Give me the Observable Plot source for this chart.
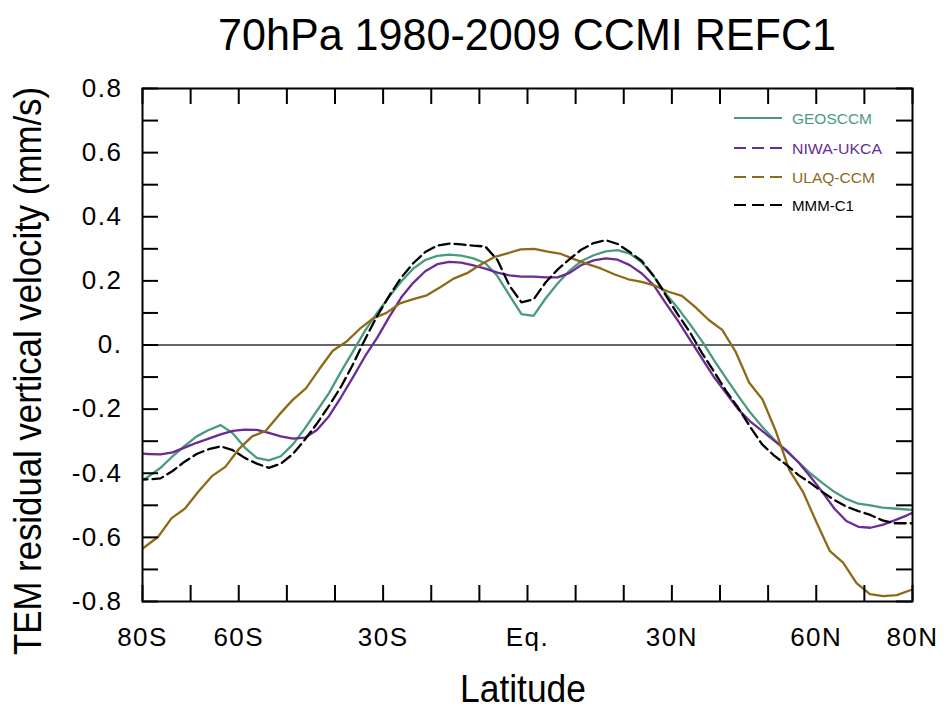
<!DOCTYPE html>
<html><head><meta charset="utf-8">
<script src="https://cdn.jsdelivr.net/npm/d3@7"></script>
<script src="https://cdn.jsdelivr.net/npm/@observablehq/plot@0.6"></script>
<style>
body{margin:0;background:#fff;}
#chart{width:946px;height:711px;}
g[aria-label="x-axis tick label"] text, g[aria-label="y-axis tick label"] text{letter-spacing:1.5px;}
</style>
</head><body><div id="chart"></div>
<script>
// common 2.5° latitude grid (GEOSCCM, NIWA-UKCA, MMM-C1)
const latGrid = [-81.25,-78.75,-76.25,-73.75,-71.25,-68.75,-66.25,-63.75,-61.25,-58.75,-56.25,-53.75,-51.25,-48.75,-46.25,-43.75,-41.25,-38.75,-36.25,-33.75,-31.25,-28.75,-26.25,-23.75,-21.25,-18.75,-16.25,-13.75,-11.25,-8.75,-6.25,-3.75,-1.25,1.25,3.75,6.25,8.75,11.25,13.75,16.25,18.75,21.25,23.75,26.25,28.75,31.25,33.75,36.25,38.75,41.25,43.75,46.25,48.75,51.25,53.75,56.25,58.75,61.25,63.75,66.25,68.75,71.25,73.75,76.25,78.75,81.25];
// T42 Gaussian latitudes (ULAQ-CCM)
const latT42 = [-82.31,-79.53,-76.74,-73.95,-71.16,-68.37,-65.58,-62.79,-60.0,-57.21,-54.42,-51.63,-48.84,-46.04,-43.25,-40.46,-37.67,-34.88,-32.09,-29.30,-26.51,-23.72,-20.93,-18.14,-15.35,-12.56,-9.77,-6.98,-4.19,-1.40,1.40,4.19,6.98,9.77,12.56,15.35,18.14,20.93,23.72,26.51,29.30,32.09,34.88,37.67,40.46,43.25,46.04,48.84,51.63,54.42,57.21,60.0,62.79,65.58,68.37,71.16,73.95,76.74,79.53,82.31];

const geosccm = [-0.435,-0.41,-0.383,-0.347,-0.315,-0.285,-0.265,-0.25,-0.275,-0.32,-0.352,-0.36,-0.347,-0.31,-0.26,-0.205,-0.15,-0.083,-0.02,0.045,0.10,0.15,0.198,0.238,0.265,0.278,0.282,0.279,0.27,0.255,0.215,0.155,0.096,0.091,0.145,0.192,0.232,0.262,0.28,0.292,0.296,0.285,0.258,0.214,0.16,0.115,0.065,0.012,-0.047,-0.103,-0.158,-0.21,-0.255,-0.295,-0.33,-0.365,-0.4,-0.43,-0.458,-0.48,-0.495,-0.5,-0.507,-0.51,-0.513,-0.516];
const niwaUkca = [-0.338,-0.34,-0.341,-0.335,-0.32,-0.305,-0.292,-0.279,-0.268,-0.264,-0.265,-0.274,-0.285,-0.292,-0.289,-0.265,-0.222,-0.163,-0.1,-0.035,0.022,0.087,0.148,0.194,0.23,0.252,0.259,0.257,0.248,0.238,0.226,0.217,0.213,0.213,0.211,0.211,0.225,0.25,0.264,0.27,0.266,0.249,0.223,0.186,0.13,0.076,0.017,-0.042,-0.1,-0.15,-0.2,-0.238,-0.268,-0.298,-0.328,-0.365,-0.41,-0.458,-0.51,-0.549,-0.567,-0.57,-0.561,-0.547,-0.532,-0.515];
const ulaqCcm = [-0.66,-0.63,-0.598,-0.54,-0.51,-0.457,-0.409,-0.38,-0.325,-0.285,-0.268,-0.218,-0.172,-0.135,-0.075,-0.018,0.01,0.05,0.083,0.10,0.13,0.143,0.155,0.18,0.207,0.224,0.25,0.274,0.286,0.298,0.30,0.291,0.284,0.267,0.252,0.238,0.22,0.205,0.197,0.185,0.166,0.153,0.118,0.078,0.047,-0.021,-0.117,-0.17,-0.27,-0.39,-0.457,-0.551,-0.642,-0.679,-0.743,-0.777,-0.783,-0.78,-0.765,-0.75];
const mmmC1 = [-0.419,-0.419,-0.416,-0.393,-0.364,-0.34,-0.325,-0.316,-0.328,-0.352,-0.37,-0.383,-0.37,-0.34,-0.295,-0.245,-0.19,-0.13,-0.06,0.018,0.09,0.153,0.21,0.255,0.29,0.31,0.316,0.314,0.31,0.307,0.265,0.185,0.133,0.142,0.195,0.235,0.268,0.298,0.318,0.327,0.315,0.29,0.262,0.215,0.155,0.095,0.04,-0.025,-0.083,-0.143,-0.195,-0.255,-0.31,-0.345,-0.373,-0.405,-0.43,-0.458,-0.483,-0.504,-0.518,-0.53,-0.547,-0.556,-0.556,-0.556];

const seriesNames = ["GEOSCCM","NIWA-UKCA","ULAQ-CCM","MMM-C1"];
const seriesColors = ["#4a9a7f","#6a2b94","#8d6a17","#000000"];

const xMinorTicks = [-80,-70,-60,-50,-40,-30,-20,-10,0,10,20,30,40,50,60,70,80];
const xLabelTicks = [-80,-60,-30,0,30,60,80];
const xLabels = ["80S","60S","30S","Eq.","30N","60N","80N"];
const yMinorTicks = [-0.8,-0.7,-0.6,-0.5,-0.4,-0.3,-0.2,-0.1,0,0.1,0.2,0.3,0.4,0.5,0.6,0.7,0.8];
const yLabelTicks = [-0.8,-0.6,-0.4,-0.2,0,0.2,0.4,0.6,0.8];
const yLabels = ["-0.8","-0.6","-0.4","-0.2","0.","0.2","0.4","0.6","0.8"];

const W = 946, H = 711, mL = 142, mR = 34, mT = 88, mB = 110;
const pw = W - mL - mR, ph = H - mT - mB, tickLen = 16;

const rows = (name, lats, vals) => lats.map((lat, i) => ({model: name, lat, v: vals[i]}));
const dGeos = rows("GEOSCCM", latGrid, geosccm);
const dNiwa = rows("NIWA-UKCA", latGrid, niwaUkca);
const dUlaq = rows("ULAQ-CCM", latT42, ulaqCcm);
const dMmm = rows("MMM-C1", latGrid, mmmC1);

const chart = Plot.plot({
  width: W, height: H,
  marginLeft: mL, marginRight: mR, marginTop: mT, marginBottom: mB,
  style: {fontFamily: "'Liberation Sans', Arial, sans-serif", background: "#fff", color: "#000"},
  x: {domain: [-80, 80], label: null},
  y: {domain: [-0.8, 0.8], label: null},
  marks: [
    Plot.ruleY([0], {stroke: "#333", strokeWidth: 1.5}),
    Plot.line(dGeos, {x: "lat", y: "v", stroke: seriesColors[0], strokeWidth: 2.3, clip: true}),
    Plot.line(dNiwa, {x: "lat", y: "v", stroke: seriesColors[1], strokeWidth: 2.3, clip: true}),
    Plot.line(dUlaq, {x: "lat", y: "v", stroke: seriesColors[2], strokeWidth: 2.3, clip: true}),
    Plot.line(dMmm, {x: "lat", y: "v", stroke: seriesColors[3], strokeWidth: 2.3, strokeDasharray: "11,5", clip: true}),
    Plot.tickX(xMinorTicks, {x: d => d, insetTop: ph - tickLen, stroke: "#000", strokeWidth: 2}),
    Plot.tickX(xMinorTicks, {x: d => d, insetBottom: ph - tickLen, stroke: "#000", strokeWidth: 2}),
    Plot.tickY(yMinorTicks, {y: d => d, insetRight: pw - tickLen, stroke: "#000", strokeWidth: 2}),
    Plot.tickY(yMinorTicks, {y: d => d, insetLeft: pw - tickLen, stroke: "#000", strokeWidth: 2}),
    Plot.axisX(xLabelTicks, {tickSize: 0, tickPadding: 26, fontSize: 26, label: null,
      tickFormat: d => xLabels[xLabelTicks.indexOf(d)]}),
    Plot.axisY(yLabelTicks, {tickSize: 0, tickPadding: 20, fontSize: 26, label: null,
      tickFormat: d => yLabels[yLabelTicks.indexOf(d)]}),
    Plot.frame({stroke: "#000", strokeWidth: 2})
  ]
});
document.getElementById("chart").appendChild(chart);

const svg = d3.select(chart);
const font = "'Liberation Sans', Arial, sans-serif";
svg.append("text").attr("x", 527).attr("y", 50).attr("text-anchor", "middle")
  .attr("font-family", font).attr("font-size", 44).attr("fill", "#000")
  .attr("textLength", 618).attr("lengthAdjust", "spacingAndGlyphs")
  .text("70hPa 1980-2009 CCMI REFC1");
svg.append("text").attr("x", 523).attr("y", 702).attr("text-anchor", "middle")
  .attr("font-family", font).attr("font-size", 38).attr("fill", "#000")
  .attr("textLength", 126).attr("lengthAdjust", "spacingAndGlyphs")
  .text("Latitude");
svg.append("text").attr("transform", "translate(41,371) rotate(-90)").attr("text-anchor", "middle")
  .attr("font-family", font).attr("font-size", 38).attr("fill", "#000")
  .attr("textLength", 568).attr("lengthAdjust", "spacingAndGlyphs")
  .text("TEM residual vertical velocity (mm/s)");

// legend
const legY = [118, 148, 177, 205];
const legLen = [80, 90, 83, 62];
const legDash = [null, "12,6", "12,6", "12,6"];
const leg = svg.append("g").attr("text-anchor", "start");
seriesNames.forEach((name, i) => {
  const ln = leg.append("line").attr("x1", 734).attr("x2", 782).attr("y1", legY[i]).attr("y2", legY[i])
    .attr("stroke", seriesColors[i]).attr("stroke-width", 2.2);
  if (legDash[i]) ln.attr("stroke-dasharray", legDash[i]);
  leg.append("text").attr("x", 792).attr("y", legY[i] + 5.5).attr("text-anchor", "start")
    .attr("font-family", font).attr("font-size", 15).attr("fill", seriesColors[i])
    .attr("textLength", legLen[i]).attr("lengthAdjust", "spacingAndGlyphs")
    .text(name);
});
</script>
</body></html>
